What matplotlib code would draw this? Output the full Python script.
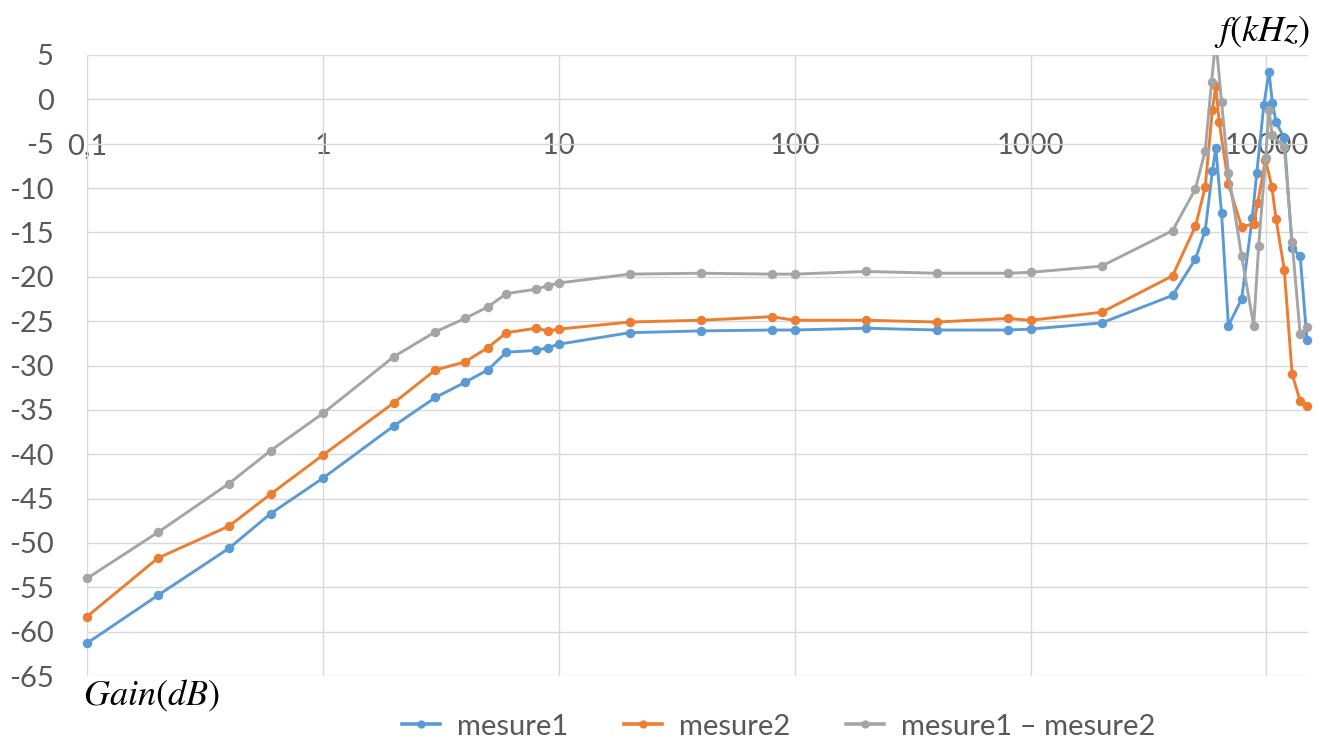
import matplotlib
matplotlib.use("Agg")
import matplotlib.pyplot as plt
from matplotlib.patches import Rectangle

plt.rcParams['font.family'] = ['Lato', 'DejaVu Sans']
plt.rcParams['mathtext.fontset'] = 'stix'

# frequencies (kHz) and gains (dB)
f_low = [0.1, 0.2, 0.4, 0.6, 1, 2, 3, 4, 5, 6, 8, 9, 10, 20, 40, 80, 100,
         200, 400, 800, 1000, 2000, 4000]

f1_high = [5000, 5500, 5900, 6100, 6450, 6900, 7850, 8700, 9100, 9750,
           10250, 10600, 11000, 11900, 12850, 13900, 14850]
g1_low = [-61.3, -55.9, -50.6, -46.7, -42.7, -36.8, -33.6, -31.9, -30.5, -28.5,
          -28.3, -28.0, -27.6, -26.3, -26.1, -26.0, -26.0, -25.8, -26.0, -26.0,
          -25.9, -25.2, -22.1]
g1_high = [-18.0, -14.8, -8.1, -5.5, -12.8, -25.5, -22.5, -13.4, -8.3, -0.6,
           3.1, -0.4, -2.6, -4.4, -16.7, -17.7, -27.1]

f2_high = [5000, 5500, 5900, 6100, 6300, 6900, 7850, 8830, 9180, 9900,
           10550, 10980, 11900, 12850, 13900, 14850]
g2_low = [-58.3, -51.7, -48.1, -44.5, -40.1, -34.2, -30.5, -29.6, -28.0, -26.3,
          -25.8, -26.1, -25.9, -25.1, -24.9, -24.5, -24.9, -24.9, -25.1, -24.7,
          -24.9, -24.0, -19.9]
g2_high = [-14.3, -9.9, -1.2, 1.5, -2.5, -9.5, -14.4, -14.0, -11.7, -6.8,
           -9.9, -13.5, -19.2, -31.0, -34.0, -34.6]

f3_high = [5000, 5500, 5850, 6100, 6450, 6900, 7850, 8830, 9270, 9920,
           10250, 10580, 11900, 12850, 13900, 14850]
g3_low = [-54.0, -48.8, -43.3, -39.6, -35.4, -29.0, -26.2, -24.7, -23.4, -21.9,
          -21.4, -21.0, -20.7, -19.7, -19.6, -19.7, -19.7, -19.4, -19.6, -19.6,
          -19.5, -18.8, -14.8]
g3_high = [-10.1, -5.8, 1.9, 6.8, -0.3, -8.3, -17.7, -25.5, -16.5, -6.6,
           -1.2, -4.0, -5.4, -16.1, -26.5, -25.7]

names = ['mesure1', 'mesure2', 'mesure1 – mesure2']
colors = ['#5B9BD5', '#ED7D31', '#A5A5A5']

xticks = [0.1, 1, 10, 100, 1000, 10000]
xlabels = ['0,1', '1', '10', '100', '1000', '10000']
yticks = list(range(-65, 6, 5))

fig = plt.figure(figsize=(13.2, 7.46), dpi=100)
ax = fig.add_axes([0.0659, 0.0938, 0.925, 0.8325])

ax.set_xscale('log')
ax.set_xlim(0.1, 15000)
ax.set_ylim(-65, 5)

series = [(f_low + f1_high, g1_low + g1_high),
          (f_low + f2_high, g2_low + g2_high),
          (f_low + f3_high, g3_low + g3_high)]

# clip only at the top so end markers on the sides stay whole
clip = Rectangle((-0.02, -0.03), 1.04, 1.03, transform=ax.transAxes,
                 facecolor='none', edgecolor='none')
for (x, y), name, c in zip(series, names, colors):
    ln, = ax.plot(x, y, color=c, lw=2.1, marker='o', ms=5.8, label=name, zorder=3)
    ln.set_clip_path(clip)

ax.set_xticks(xticks)
ax.set_xticklabels([])
ax.minorticks_off()
ax.set_yticks(yticks)
ax.set_yticklabels([str(v) for v in yticks])
ax.tick_params(axis='both', length=0)
ax.tick_params(axis='y', labelsize=21, labelcolor='#595959', pad=24)
ax.grid(True, color='#d9d9d9', lw=1.0, zorder=0)
for s in ax.spines.values():
    s.set_visible(False)

for xv, lab in zip(xticks, xlabels):
    ax.text(xv, -5.3, lab, ha='center', va='center', fontsize=21,
            color='#595959', zorder=1)

fig.text(0.992, 0.958, r'$f(kHz)$', ha='right', va='center', fontsize=26)
fig.text(0.063, 0.067, r'$Gain(dB)$', ha='left', va='center', fontsize=26)

leg = fig.legend(loc='center', bbox_to_anchor=(0.59, 0.026), ncol=3,
                 frameon=False, fontsize=21, handlelength=1.3,
                 handletextpad=0.6, columnspacing=1.9, markerscale=0.85)
for t in leg.get_texts():
    t.set_color('#595959')
for h in leg.legend_handles:
    h.set_linewidth(2.6)

fig.savefig('out.png', dpi=100)
